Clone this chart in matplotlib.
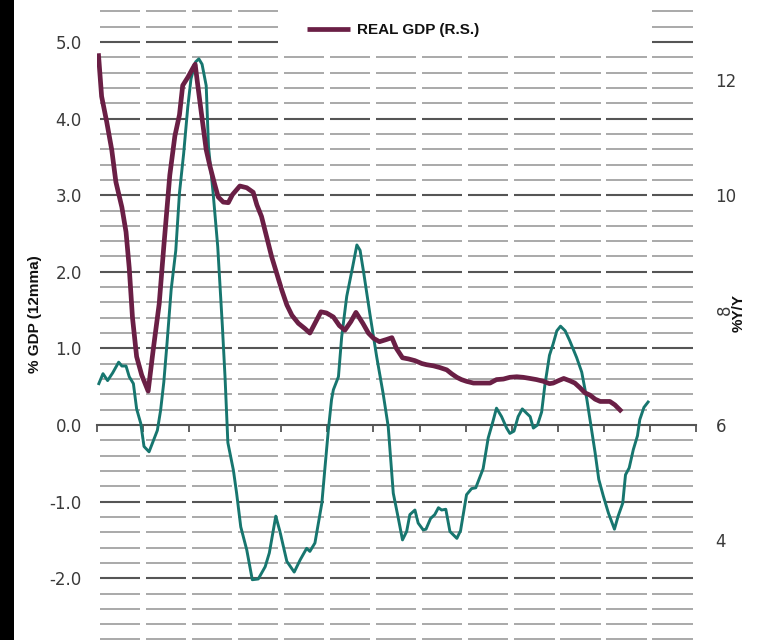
import matplotlib
matplotlib.use("Agg")
import matplotlib.pyplot as plt
from matplotlib.patches import Rectangle
import numpy as np

# ---- data (decimal years, values) ----
impulse_year = [2008.04, 2008.13, 2008.23, 2008.34, 2008.47, 2008.54, 2008.63, 2008.70, 2008.79, 2008.86,
                2008.95, 2009.02, 2009.13, 2009.22, 2009.31, 2009.38, 2009.45, 2009.52, 2009.61, 2009.71,
                2009.79, 2009.88, 2009.97, 2010.04, 2010.14, 2010.21, 2010.28, 2010.37, 2010.42, 2010.52,
                2010.62, 2010.72, 2010.78, 2010.84, 2010.96, 2011.03, 2011.12, 2011.25, 2011.37, 2011.50,
                2011.65, 2011.74, 2011.88, 2011.97, 2012.12, 2012.28, 2012.41, 2012.55, 2012.62, 2012.73,
                2012.88, 2012.95, 2013.02, 2013.09, 2013.13, 2013.24, 2013.31, 2013.42, 2013.55, 2013.64,
                2013.71, 2013.79, 2013.92, 2014.07, 2014.21, 2014.32, 2014.43, 2014.54, 2014.63, 2014.72,
                2014.79, 2014.90, 2014.97, 2015.08, 2015.14, 2015.24, 2015.33, 2015.41, 2015.48, 2015.57,
                2015.66, 2015.81, 2015.89, 2016.02, 2016.13, 2016.22, 2016.38, 2016.49, 2016.59, 2016.67,
                2016.78, 2016.89, 2016.96, 2017.05, 2017.14, 2017.23, 2017.33, 2017.40, 2017.47, 2017.56,
                2017.65, 2017.72, 2017.82, 2017.90, 2017.98, 2018.06, 2018.16, 2018.26, 2018.41, 2018.52,
                2018.63, 2018.71, 2018.81, 2018.89, 2018.99, 2019.10, 2019.23, 2019.31, 2019.41, 2019.47,
                2019.55, 2019.64, 2019.73, 2019.78, 2019.87, 2019.96]
impulse_val = [0.54, 0.67, 0.58, 0.68, 0.82, 0.77, 0.77, 0.63, 0.54, 0.21,
               0.02, -0.28, -0.35, -0.21, -0.07, 0.19, 0.56, 1.07, 1.77, 2.28,
               3.03, 3.54, 4.15, 4.52, 4.74, 4.78, 4.71, 4.43, 3.63, 3.03,
               2.33, 1.30, 0.61, -0.23, -0.59, -0.89, -1.33, -1.63, -2.02, -2.01,
               -1.85, -1.67, -1.19, -1.39, -1.78, -1.92, -1.76, -1.61, -1.65, -1.54,
               -1.02, -0.54, -0.07, 0.33, 0.46, 0.63, 1.15, 1.68, 2.07, 2.35,
               2.28, 1.98, 1.46, 0.89, 0.41, -0.02, -0.89, -1.22, -1.50, -1.39,
               -1.17, -1.11, -1.28, -1.37, -1.36, -1.22, -1.17, -1.08, -1.11, -1.10,
               -1.39, -1.48, -1.38, -0.91, -0.83, -0.82, -0.57, -0.17, 0.04, 0.22,
               0.11, -0.04, -0.11, -0.08, 0.11, 0.21, 0.15, 0.11, -0.04, 0.00,
               0.17, 0.52, 0.91, 1.06, 1.23, 1.29, 1.23, 1.10, 0.88, 0.69,
               0.34, 0.03, -0.36, -0.71, -0.93, -1.15, -1.36, -1.19, -1.02, -0.65,
               -0.56, -0.32, -0.14, 0.07, 0.23, 0.30]

gdp_year = [2008.03, 2008.10, 2008.21, 2008.32, 2008.41, 2008.54, 2008.63, 2008.70, 2008.77, 2008.86,
            2008.97, 2009.11, 2009.22, 2009.35, 2009.45, 2009.58, 2009.69, 2009.79, 2009.86, 2009.97,
            2010.08, 2010.13, 2010.18, 2010.27, 2010.37, 2010.45, 2010.54, 2010.63, 2010.74, 2010.85,
            2010.94, 2011.10, 2011.25, 2011.39, 2011.47, 2011.57, 2011.68, 2011.79, 2011.90, 2012.01,
            2012.12, 2012.23, 2012.37, 2012.51, 2012.62, 2012.75, 2012.86, 2012.98, 2013.13, 2013.26,
            2013.38, 2013.51, 2013.62, 2013.77, 2013.89, 2014.00, 2014.13, 2014.29, 2014.40, 2014.50,
            2014.63, 2014.76, 2014.90, 2015.05, 2015.15, 2015.30, 2015.44, 2015.59, 2015.70, 2015.81,
            2015.91, 2016.02, 2016.17, 2016.31, 2016.53, 2016.67, 2016.82, 2016.96, 2017.11, 2017.25,
            2017.40, 2017.54, 2017.69, 2017.82, 2017.90, 2018.01, 2018.13, 2018.26, 2018.37, 2018.48,
            2018.59, 2018.70, 2018.81, 2018.92, 2019.13, 2019.24, 2019.39]
gdp_val = [12.47, 11.72, 11.28, 10.79, 10.23, 9.79, 9.36, 8.73, 7.87, 7.19,
           6.87, 6.59, 7.31, 8.11, 9.11, 10.35, 11.03, 11.40, 11.91, 12.05,
           12.21, 12.28, 11.96, 11.40, 10.79, 10.51, 10.23, 9.97, 9.88, 9.87,
           10.01, 10.16, 10.13, 10.05, 9.83, 9.63, 9.28, 8.93, 8.64, 8.35,
           8.09, 7.91, 7.77, 7.68, 7.60, 7.80, 7.97, 7.95, 7.88, 7.73,
           7.65, 7.80, 7.96, 7.77, 7.60, 7.51, 7.45, 7.49, 7.52, 7.33,
           7.17, 7.15, 7.12, 7.07, 7.05, 7.03, 7.00, 6.96, 6.89, 6.83,
           6.79, 6.76, 6.73, 6.73, 6.73, 6.79, 6.80, 6.83, 6.84, 6.83,
           6.81, 6.79, 6.76, 6.72, 6.73, 6.77, 6.81, 6.77, 6.73, 6.65,
           6.56, 6.52, 6.45, 6.41, 6.41, 6.35, 6.23]

left_ticks = [-2, -1, 0, 1, 2, 3, 4, 5]
right_ticks = [4, 6, 8, 10, 12]
legend_label = "REAL GDP (R.S.)"
left_label = "% GDP (12mma)"
right_label = "%Y/Y"

# ---- style ----
TEAL = "#17766f"
MAROON = "#6a1f45"
LIGHT = "#a3a3a3"
DARK = "#555555"
TXT = "#3a3a3a"

W, H = 760, 640
fig = plt.figure(figsize=(W / 100, H / 100), dpi=100)

# axes geometry from pixel layout
x0, x1 = 97, 696
ylo, yhi = -2.82, 5.55
ppu = 76.6
ytop_px = 425 - yhi * ppu
ybot_px = 425 - ylo * ppu
ax = fig.add_axes([x0 / W, 1 - ybot_px / H, (x1 - x0) / W, (ybot_px - ytop_px) / H])
ax.set_xlim(2008, 2021)
ax.set_ylim(ylo, yhi)
ax.patch.set_alpha(0)

# black strip at left edge
fig.patches.append(Rectangle((0, 0), 14 / W, 1, transform=fig.transFigure,
                             facecolor="black", edgecolor="none", zorder=0))

# segmented horizontal gridlines
years = np.arange(2008, 2021)
seg_start = years + 0.055
seg_end = years + 1 - 0.07
levels = np.round(np.arange(-2.8, 5.41, 0.2), 1)
for lv in levels:
    if abs(lv) < 1e-9:
        continue
    major = abs(lv - round(lv)) < 1e-9
    ax.hlines(np.full(len(years), lv), seg_start, seg_end,
              colors=DARK if major else LIGHT, linewidth=1.5 if major else 1.3, zorder=0.5)

# white box behind legend covering gridlines
ax.add_patch(Rectangle((281 / W, 1 - 50 / H), (650 - 281) / W, 50 / H, transform=fig.transFigure,
                       facecolor="white", edgecolor="none", zorder=0.8, clip_on=False))

# zero axis with year ticks
for s in ["top", "left", "right"]:
    ax.spines[s].set_visible(False)
ax.spines["bottom"].set_position(("data", 0))
ax.spines["bottom"].set_color(DARK)
ax.spines["bottom"].set_linewidth(1.5)
ax.set_xticks(np.arange(2008, 2022))
ax.tick_params(axis="x", direction="out", length=5, width=1.3, color=DARK, labelbottom=False)

ax.plot(impulse_year, impulse_val, color=TEAL, linewidth=2.1, zorder=3, solid_joinstyle="round")

ax.set_yticks(left_ticks)
ax.set_yticklabels([f"{v:.1f}" for v in left_ticks])
ax.tick_params(axis="y", length=0, pad=11, labelsize=12, labelcolor=TXT)

# right axis
ax2 = ax.twinx()
ax2.set_ylim(6 + ylo * 4 / 3, 6 + yhi * 4 / 3)
for s in ax2.spines.values():
    s.set_visible(False)
ax2.set_yticks(right_ticks)
ax2.set_yticklabels([str(v) for v in right_ticks])
ax2.tick_params(axis="y", length=0, pad=14, labelsize=12, labelcolor=TXT)
for t in ax2.get_yticklabels():
    if t.get_text() == "8":
        t.set_rotation(90)
        t.set_verticalalignment("center")
ln, = ax2.plot(gdp_year, gdp_val, color=MAROON, linewidth=3.4, zorder=4,
               solid_joinstyle="round", solid_capstyle="butt", label=legend_label)

leg = ax2.legend(handles=[ln], loc="center left", bbox_to_anchor=(307 / W, 1 - 30 / H),
                 bbox_transform=fig.transFigure, frameon=False, borderpad=0, borderaxespad=0,
                 handlelength=2.8, handletextpad=0.45,
                 prop={"family": "Liberation Sans", "weight": "bold", "size": 11})
for t in leg.get_texts():
    t.set_color("#111111")

fig.text(35 / W, 1 - 314 / H, left_label, rotation=90, ha="center", va="center",
         fontsize=11, fontweight="bold", family="Liberation Sans", color="#111111")
fig.text(739 / W, 1 - 313 / H, right_label, rotation=90, ha="center", va="center",
         fontsize=11, fontweight="bold", family="Liberation Sans", color="#111111")

fig.savefig("out.png", dpi=100, facecolor="white")
